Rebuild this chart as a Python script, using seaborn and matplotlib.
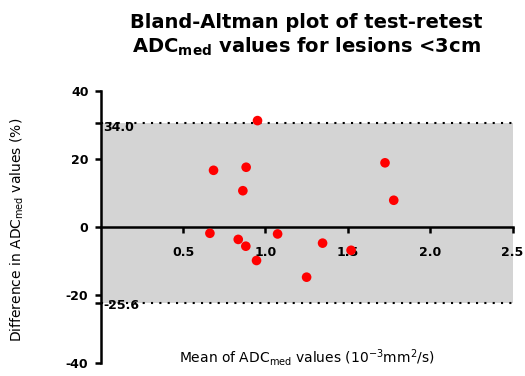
import matplotlib
matplotlib.use("Agg")
import matplotlib.pyplot as plt
import seaborn as sns
import pandas as pd

# ---- data ----
mean_adc = [0.952, 0.685, 0.883, 0.863, 1.726, 1.779, 0.663,
            0.835, 0.881, 0.946, 1.074, 1.347, 1.520, 1.250]
diff_pct = [31.3, 16.7, 17.6, 10.7, 18.9, 7.9, -1.8,
            -3.6, -5.6, -9.8, -2.0, -4.7, -6.8, -14.7]
upper_loa = 30.5
lower_loa = -22.4
upper_label = "34.0"
lower_label = "-25.6"
x_ticks = [0.5, 1.0, 1.5, 2.0, 2.5]
x_tick_labels = ["0.5", "1.0", "1.5", "2.0", "2.5"]
y_ticks = [40, 20, 0, -20, -40]
y_tick_labels = ["40", "20", "0", "-20", "-40"]

title = "Bland-Altman plot of test-retest\nADC$_{\\mathbf{med}}$ values for lesions <3cm"
xlabel = "Mean of ADC$_{\\mathregular{med}}$ values (10$^{\\mathregular{-3}}$mm$^{\\mathregular{2}}$/s)"
ylabel = "Difference in ADC$_{\\mathregular{med}}$ values (%)"

df = pd.DataFrame({"mean": mean_adc, "diff": diff_pct})

sns.set_theme(style="white", rc={"text.color": "black", "axes.labelcolor": "black",
                                 "xtick.color": "black", "ytick.color": "black",
                                 "axes.edgecolor": "black"})
plt.rcParams["font.family"] = ["DejaVu Sans"]

fig = plt.figure(figsize=(5.25, 3.76), dpi=100)
ax = fig.add_axes([0.1918, 0.0338, 0.7844, 0.7242])

# shaded band between limits of agreement
ax.fill_between([0, 2.5], [lower_loa, lower_loa], [upper_loa, upper_loa],
                color="#d4d4d4", linewidth=0, zorder=0)
for yv in (upper_loa, lower_loa):
    ax.plot([0, 2.5], [yv, yv], color="black", linewidth=1.5,
            linestyle=(0, (1, 3)), zorder=1, dash_capstyle="butt")

sns.scatterplot(data=df, x="mean", y="diff", ax=ax, color="#ff0000",
                s=48, edgecolor="none", zorder=3, clip_on=False)

ax.text(0.015, upper_loa - 1.2, upper_label, fontsize=9, fontweight="bold",
        ha="left", va="center", zorder=2, color="black")
ax.text(0.015, lower_loa - 0.6, lower_label, fontsize=9, fontweight="bold",
        ha="left", va="center", zorder=2, color="black")

ax.set_xlim(0, 2.5)
ax.set_ylim(-40, 40)

# spines
for s in ("top", "right"):
    ax.spines[s].set_visible(False)
ax.spines["bottom"].set_position(("data", 0))
ax.spines["left"].set_linewidth(1.8)
ax.spines["bottom"].set_linewidth(1.8)
ax.spines["left"].set_color("black")
ax.spines["bottom"].set_color("black")

ax.set_xticks(x_ticks)
ax.set_xticklabels(x_tick_labels, fontsize=9, fontweight="bold")
ax.set_yticks(y_ticks + [upper_loa, lower_loa])
ax.set_yticklabels(y_tick_labels + ["", ""], fontsize=9, fontweight="bold")
ax.tick_params(axis="x", direction="out", length=4.3, width=1.8, pad=9.5,
               colors="black", bottom=True)
ax.tick_params(axis="y", direction="out", length=4.3, width=1.8, pad=4.5,
               colors="black", left=True)
ax.grid(False)
ax.set_facecolor("white")

ax.set_xlabel(xlabel, fontsize=10, va="baseline", color="black")
ax.xaxis.set_label_coords(0.5, 0.003)
ax.set_ylabel(ylabel, fontsize=10, color="black")
ax.yaxis.set_label_coords(-0.181, 0.49)

fig.text(0.583, 0.965, title, ha="center", va="top", fontsize=14,
         fontweight="bold", linespacing=1.2, color="black")

fig.savefig("out.png", dpi=100)
